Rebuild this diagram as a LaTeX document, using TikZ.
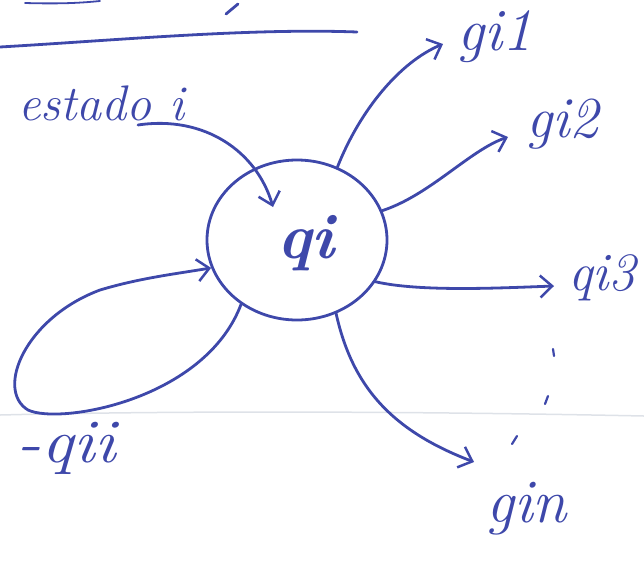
\documentclass[tikz,border=0pt]{standalone}
\usepackage{graphicx}
\usetikzlibrary{arrows.meta,shapes.geometric}
\definecolor{ink}{RGB}{62,72,170}
\definecolor{fold}{RGB}{222,226,232}
\begin{document}
\begin{tikzpicture}[x=1pt,y=-1pt,
  pen/.style={draw=ink,line width=2.8pt,line cap=round},
  arr/.style={pen,-{Straight Barb[length=12pt,width=22pt,line width=2.5pt]}},
  hand/.style={text=ink,font=\fontsize{#1}{#1}\selectfont\itshape,inner sep=0pt,anchor=base west},
  state/.style={ellipse,draw=ink,line width=2.8pt,minimum width=180pt,minimum height=160pt,inner sep=0pt}]
\useasboundingbox (0,0) rectangle (644,563);
% paper fold
\draw[fold,line width=1.5pt] (0,415) .. controls (200,410) and (450,412) .. (644,416);
% top rule and cut-off strokes
\draw[pen] (0,47) .. controls (120,40) and (250,28) .. (357,32);
\draw[pen,line width=1.8pt] (25,3) .. controls (60,4) and (80,3) .. (100,1);
\draw[pen] (226,14) -- (238,4);
% state
\node[state] (q) at (297,240) {};
\node[text=ink,font=\fontsize{64}{64}\selectfont\bfseries\itshape,anchor=base] (qi) at (306,258) {qi};
% labels
\node[hand=50] (est) at (18,120) {estado i};
\node[hand=60] (g1) at (457,50) {gi1};
\node[hand=58] (g2) at (526,137) {gi2};
\node[hand=54] (g3) at (568,290) {qi3};
\node[hand=62] (gn) at (486,522) {gin};
\node[hand=62] (gii) at (16,462) {\scalebox{1.15}[1]{-qii}};
\coordinate (es) at (138,125);
\coordinate (ein) at (273,207);
\coordinate (t1) at (443,44);
\coordinate (t2) at (508,137);
\coordinate (t3) at (554,286);
\coordinate (tn) at (474,462);
% entering arrow
\draw[arr] (es) .. controls (205,115) and (257,152) .. (ein);
% outgoing
\draw[arr] (q.61) .. controls (360,110) and (400,62) .. (t1);
\draw[arr] (q.19) .. controls (430,195) and (470,150) .. (t2);
\draw[arr] (q.-28) .. controls (420,292) and (500,288) .. (t3);
\draw[arr] (q.-62) .. controls (352,385) and (390,430) .. (tn);
% self loop
\draw[arr] (q.229) .. controls (205,400) and (60,425) .. (28,410)
  .. controls (-5,390) and (25,318) .. (100,290)
  .. controls (140,278) and (175,274) .. (q.198);
% dots
\draw[pen,line width=2.2pt] (553,349) -- (554,356);
\draw[pen,line width=2.2pt] (548,396) -- (545,404);
\draw[pen,line width=2.2pt] (517,436) -- (512,444);
\end{tikzpicture}
\end{document}
